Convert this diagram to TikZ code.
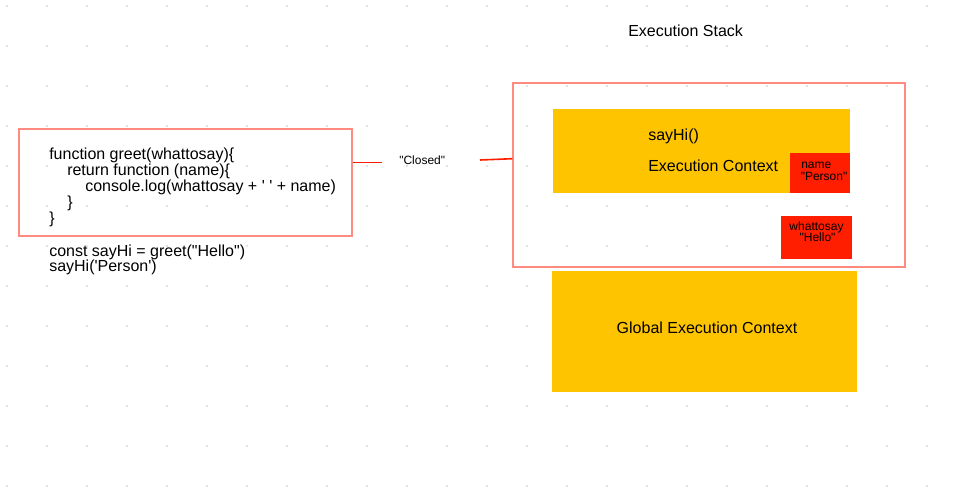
\documentclass[tikz,border=0pt]{standalone}
\usepackage{fontspec}
\setmainfont{Liberation Sans}[Ligatures=TeXOff]
\usetikzlibrary{fit}
\definecolor{salmon}{HTML}{FF8A80}
\definecolor{ctxyellow}{HTML}{FFC400}
\definecolor{varred}{HTML}{FF1E00}
\definecolor{dotgray}{HTML}{E2E2E2}
\tikzset{
  frame/.style={draw=salmon, line width=1.1pt, inner sep=0pt},
  ctxbox/.style={fill=ctxyellow, inner sep=0pt},
  varbox/.style={fill=varred, inner sep=0pt},
  link/.style={draw=varred, line width=1.2pt},
  bigtext/.style={font=\fontsize{12}{13}\selectfont, inner sep=0pt, anchor=base west},
  smalltext/.style={font=\fontsize{9}{9}\selectfont, inner sep=0pt, anchor=base west}
}

\begin{document}
\begin{tikzpicture}[x=0.75pt, y=-0.75pt]
\useasboundingbox (0,0) rectangle (967,487);
% dot grid
\foreach \i in {0,...,23}
  \foreach \j in {0,...,12}
    \fill [dotgray] (7+40*\i,6+40*\j) circle (1.3);

% title
\node [bigtext] (title) at (628,36) {Execution Stack};

% code
\node [frame, fit={(19,129) (352,236)}] (code) {};
\node [bigtext] (c1) at (49,159.5) {function greet(whattosay)\{};
\node [bigtext] (c2) at (67,175.5) {return function (name)\{};
\node [bigtext] (c3) at (85,191.5) {console.log(whattosay + ' ' + name)};
\node [bigtext] (c4) at (67,207.5) {\}};
\node [bigtext] (c5) at (49,223.5) {\}};
\node [bigtext] (c6) at (49,256) {const sayHi = greet("Hello")};
\node [bigtext] (c7) at (49,271) {sayHi('Person')};

% execution stack
\node [frame, fit={(513,83) (905,267)}] (stack) {};
\node [ctxbox, fit={(553,109) (850,192.5)}] (sayhi) {};
\node [bigtext] (sayhiname) at (648,140) {sayHi()};
\node [bigtext] (sayhictx) at (648,171.5) {Execution Context};
\node [varbox, fit={(790,153) (850,192.5)}] (namevar) {};
\node [smalltext] (nametxt) at (801,168.5) {name};
\node [smalltext] (persontxt) at (800.5,180) {"Person"};
\node [varbox, fit={(781,216) (852,259)}] (sayvar) {};
\node [smalltext, anchor=base] (saytxt) at (816.5,230.5) {whattosay};
\node [smalltext, anchor=base] (hellotxt) at (817.5,241.5) {"Hello"};

\node [ctxbox, fit={(552,271) (857,391.5)}] (global) {};
\node [bigtext, anchor=base] (globaltxt) at (707,333.5) {Global Execution Context};

% closure link
\node [smalltext] (closed) at (399,164.5) {"Closed"};
\coordinate (lend) at (382,162.5);
\coordinate (rstart) at (480,160);
\coordinate (rend) at (0,158.7);
\draw [link] (code.east |- lend) -- (lend);
\draw [link] (rstart) -- (stack.west |- rend);
\end{tikzpicture}
\end{document}
